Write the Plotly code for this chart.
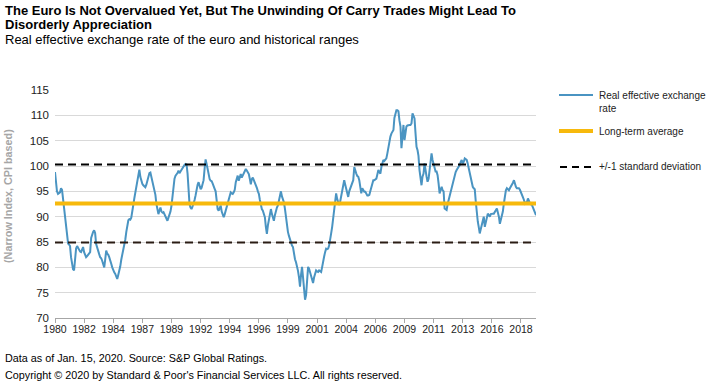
import pandas as pd
import plotly.graph_objects as go

# ---------------- data ----------------
months = pd.date_range("1980-01-01", "2019-12-01", freq="MS").strftime("%Y-%m-%d").tolist()

reer = [
    # 1980
    98.8, 96.5, 95.0, 94.5, 94.7, 94.8, 95.6, 95.3, 93.5, 91.5, 89.8, 88.0,
    # 1981
    86.4, 84.7, 84.5, 84.2, 82.0, 80.4, 79.6, 79.4, 81.5, 83.7, 84.2, 83.8,
    # 1982
    83.4, 83.1, 83.0, 83.8, 84.0, 83.0, 82.3, 82.0, 82.2, 82.4, 82.8, 83.0,
    # 1983
    85.8, 86.5, 87.0, 87.3, 86.8, 84.6, 83.8, 83.3, 82.6, 82.0, 81.8, 81.3,
    # 1984
    80.6, 80.0, 81.5, 83.3, 82.7, 82.5, 82.0, 81.5, 80.7, 80.0, 79.4, 79.0,
    # 1985
    78.7, 78.0, 77.7, 78.5, 79.2, 80.2, 81.5, 82.5, 83.3, 84.2, 85.5, 87.0,
    # 1986
    88.2, 89.3, 89.5, 89.4, 89.8, 90.8, 92.3, 93.6, 94.8, 95.8, 96.6, 98.0,
    # 1987
    99.3, 97.8, 97.0, 96.5, 96.2, 95.9, 95.8, 96.3, 97.0, 98.2, 98.6, 98.7,
    # 1988
    97.8, 97.0, 96.3, 95.5, 94.3, 92.5, 91.0, 90.5, 91.2, 91.8, 91.0, 90.8,
    # 1989
    90.9, 90.5, 90.2, 89.8, 89.2, 89.8, 90.3, 91.0, 92.2, 94.0, 96.5, 97.5,
    # 1990
    98.1, 98.3, 98.6, 99.1, 98.6, 98.9, 99.3, 99.6, 99.8, 100.2, 100.4, 100.3,
    # 1991
    98.5, 95.0, 92.5, 91.8, 91.5, 92.0, 92.5, 93.3, 94.2, 95.5, 96.3, 96.8,
    # 1992
    95.8, 95.4, 95.7, 96.4, 97.2, 99.5, 101.3, 100.4, 99.5, 98.1, 97.4, 97.1,
    # 1993
    97.0, 96.5, 95.8, 95.5, 95.0, 93.2, 91.5, 91.2, 92.0, 92.2, 91.0, 90.4,
    # 1994
    89.9, 90.5, 91.2, 91.8, 92.5, 93.5, 94.5, 94.8, 94.6, 94.5, 94.8, 95.3,
    # 1995
    96.8, 97.5, 98.1, 97.1, 97.6, 98.4, 97.7, 98.2, 98.7, 99.2, 99.4, 99.1,
    # 1996
    98.8, 98.4, 97.5, 96.4, 97.4, 97.7, 97.2, 96.8, 96.2, 95.7, 95.0, 94.5,
    # 1997
    93.3, 92.2, 91.5, 91.2, 90.5, 89.9, 88.0, 86.6, 88.3, 89.5, 90.9, 91.5,
    # 1998
    90.5, 89.9, 89.2, 90.3, 91.2, 91.8, 92.2, 93.2, 94.1, 95.0, 94.0, 93.5,
    # 1999
    92.8, 91.5, 89.9, 88.3, 87.0, 86.2, 85.5, 84.6, 84.3, 84.0, 82.6, 81.6,
    # 2000
    81.0, 80.2, 79.3, 78.0, 76.2, 78.5, 80.1, 78.0, 75.5, 73.6, 74.5, 77.0,
    # 2001
    80.1, 79.7, 79.0, 78.1, 77.5, 76.9, 78.0, 79.1, 79.4, 79.2, 79.1, 79.4,
    # 2002
    79.3, 79.1, 80.0, 80.8, 82.1, 83.0, 83.7, 83.6, 83.7, 84.3, 85.2, 86.7,
    # 2003
    88.0, 89.5, 90.9, 92.5, 94.6, 93.5, 93.0, 92.3, 93.0, 94.2, 95.2, 96.0,
    # 2004
    97.2, 96.3, 95.6, 94.5, 93.9, 95.0, 95.6, 95.9, 96.5, 97.2, 99.8, 99.0,
    # 2005
    98.5, 98.0, 97.9, 97.2, 96.0, 94.6, 95.6, 95.2, 94.9, 94.9, 94.6, 94.2,
    # 2006
    94.2, 94.3, 95.0, 95.9, 96.8, 97.2, 97.2, 97.3, 97.5, 98.3, 99.2, 98.8,
    # 2007
    98.5, 99.8, 100.5, 101.2, 101.0, 101.2, 101.5, 102.5, 103.8, 105.0, 105.8, 106.4,
    # 2008
    106.8, 107.1, 109.5, 110.7, 111.0, 111.0, 110.8, 109.0, 107.8, 103.5, 106.0, 108.1,
    # 2009
    105.1, 106.5, 107.8, 108.0, 108.1, 108.1, 108.1, 108.4, 110.4, 110.0, 109.4, 106.5,
    # 2010
    103.8, 103.1, 102.0, 99.2, 97.5, 96.2, 97.9, 98.5, 100.5, 98.5, 97.9, 96.9,
    # 2011
    97.5, 99.2, 100.5, 102.5, 101.2, 100.2, 99.2, 98.9, 98.9, 98.2, 96.5, 94.6,
    # 2012
    95.3, 95.9, 95.2, 95.0, 91.6, 91.4, 91.3, 92.5, 93.3, 94.2, 95.0, 95.9,
    # 2013
    96.8, 97.5, 98.5, 98.8, 99.2, 99.5, 99.8, 100.2, 100.8, 101.2, 100.5, 100.8,
    # 2014
    101.5, 101.3, 101.2, 100.5, 99.5, 98.5, 97.9, 96.5, 95.9, 95.6, 95.4, 93.0,
    # 2015
    90.6, 89.0, 88.0, 86.7, 87.5, 88.6, 89.5, 90.0, 88.0, 89.0, 90.3, 90.6,
    # 2016
    90.3, 90.0, 90.5, 90.6, 90.6, 90.6, 90.9, 91.3, 91.6, 90.8, 90.0, 88.6,
    # 2017
    89.3, 90.0, 91.0, 92.6, 94.0, 95.2, 95.6, 95.4, 95.2, 95.6, 95.9, 96.2,
    # 2018
    96.7, 97.2, 96.3, 95.9, 95.6, 95.6, 95.6, 95.3, 94.9, 94.2, 93.8, 93.3,
    # 2019
    92.6, 92.8, 92.9, 93.6, 93.0, 92.6, 92.4, 92.3, 91.8, 91.3, 90.9, 90.3,
]

long_term_avg = 92.6
std_upper = 100.3
std_lower = 84.9

tick_labels = ["1980", "1982", "1984", "1987", "1989", "1992", "1994", "1996", "1999",
               "2001", "2004", "2006", "2009", "2011", "2013", "2016", "2018"]
tick_step = 29  # months between labelled categories
tick_positions = months[::tick_step][:len(tick_labels)]

y_ticks = [70, 75, 80, 85, 90, 95, 100, 105, 110, 115]

# ---------------- styling ----------------
BLUE = "#4A94C2"
YELLOW = "#F7B90C"
FONT = "Arial, Liberation Sans, sans-serif"

W, H = 716, 390
ML, MR, MT, MB = 55, 180, 90, 72
PW, PH = W - ML - MR, H - MT - MB


def px(x):
    return (x - ML) / PW


def py(y):
    return (H - MB - y) / PH


fig = go.Figure()

fig.add_trace(go.Scatter(x=months, y=reer, mode="lines",
                         line=dict(color=BLUE, width=2),
                         name="Real effective exchange rate", showlegend=False,
                         hoverinfo="x+y"))
fig.add_trace(go.Scatter(x=[months[0], months[-1]], y=[long_term_avg, long_term_avg],
                         mode="lines", line=dict(color=YELLOW, width=4),
                         name="Long-term average", showlegend=False))
fig.add_trace(go.Scatter(x=[months[0], months[-1]], y=[std_upper, std_upper],
                         mode="lines", line=dict(color="#000000", width=2, dash="8px,5px"),
                         name="+1 standard deviation", showlegend=False))
fig.add_trace(go.Scatter(x=[months[0], months[-1]], y=[std_lower, std_lower],
                         mode="lines", line=dict(color="#2A1C14", width=2, dash="8px,5px"),
                         name="-1 standard deviation", showlegend=False))

fig.update_xaxes(
    range=[months[0], months[-1]],
    tickmode="array", tickvals=tick_positions, ticktext=tick_labels,
    showgrid=False, showline=True, linecolor="#A6A6A6", linewidth=1,
    ticks="outside", ticklen=4, tickcolor="#A6A6A6",
    tickfont=dict(family=FONT, size=10.5, color="#222"),
    ticklabelstandoff=-3,
    zeroline=False,
)
fig.update_yaxes(
    range=[70, 115], tickmode="array", tickvals=y_ticks,
    showgrid=True, gridcolor="#D9D9D9", gridwidth=1,
    showline=False, zeroline=False, ticks="",
    tickfont=dict(family=FONT, size=11.5, color="#222"),
    ticklabelstandoff=5,
)

annotations = [
    dict(x=px(3), y=py(1), xref="paper", yref="paper", xanchor="left", yanchor="top",
         align="left", showarrow=False,
         text="<b>The Euro Is Not Overvalued Yet, But The Unwinding Of Carry Trades Might Lead To</b>",
         font=dict(family=FONT, size=13, color="#000")),
    dict(x=px(3), y=py(15), xref="paper", yref="paper", xanchor="left", yanchor="top",
         align="left", showarrow=False,
         text="<b>Disorderly Appreciation</b>",
         font=dict(family=FONT, size=13, color="#000")),
    dict(x=px(3), y=py(30), xref="paper", yref="paper", xanchor="left", yanchor="top",
         align="left", showarrow=False,
         text="Real effective exchange rate of the euro and historical ranges",
         font=dict(family=FONT, size=13, color="#000")),
    dict(x=px(8), y=py(196), xref="paper", yref="paper", xanchor="center", yanchor="middle",
         textangle=-90, showarrow=False,
         text="<b>(Narrow Index, CPI based)</b>",
         font=dict(family=FONT, size=10.8, color="#A6A6A6")),
    dict(x=px(3), y=py(358), xref="paper", yref="paper", xanchor="left", yanchor="middle",
         showarrow=False, text="Data as of Jan. 15, 2020. Source: S&P Global Ratings.",
         font=dict(family=FONT, size=10.8, color="#000")),
    dict(x=px(3), y=py(375), xref="paper", yref="paper", xanchor="left", yanchor="middle",
         showarrow=False,
         text="Copyright © 2020 by Standard & Poor's Financial Services LLC. All rights reserved.",
         font=dict(family=FONT, size=10.8, color="#000")),
    # legend texts
    dict(x=px(597), y=py(102), xref="paper", yref="paper", xanchor="left", yanchor="middle",
         align="left", showarrow=False, text="Real effective exchange<br>rate",
         font=dict(family=FONT, size=10, color="#222")),
    dict(x=px(597), y=py(131), xref="paper", yref="paper", xanchor="left", yanchor="middle",
         showarrow=False, text="Long-term average",
         font=dict(family=FONT, size=10, color="#222")),
    dict(x=px(597), y=py(166), xref="paper", yref="paper", xanchor="left", yanchor="middle",
         showarrow=False, text="+/-1 standard deviation",
         font=dict(family=FONT, size=10, color="#222")),
]

shapes = [
    dict(type="line", xref="paper", yref="paper", x0=px(559), x1=px(593), y0=py(95), y1=py(95),
         line=dict(color=BLUE, width=2)),
    dict(type="line", xref="paper", yref="paper", x0=px(559), x1=px(593), y0=py(131), y1=py(131),
         line=dict(color=YELLOW, width=4)),
    dict(type="line", xref="paper", yref="paper", x0=px(560), x1=px(592), y0=py(167), y1=py(167),
         line=dict(color="#000", width=2, dash="7px,5px")),
]

fig.update_layout(
    width=W, height=H,
    margin=dict(l=ML, r=MR, t=MT, b=MB, pad=0),
    paper_bgcolor="white", plot_bgcolor="white",
    showlegend=False,
    annotations=annotations, shapes=shapes,
    font=dict(family=FONT),
)

fig.write_html("out.html",
               config={"displayModeBar": False},
               post_script="document.body.style.margin='0';document.body.style.padding='0';")
